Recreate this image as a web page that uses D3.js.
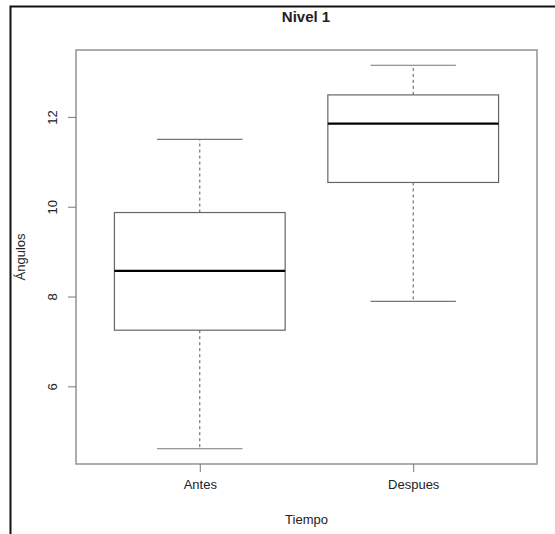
<!DOCTYPE html>
<html><head><meta charset="utf-8">
<script src="https://cdn.jsdelivr.net/npm/d3@7"></script>
<style>body{margin:0;background:#fff}svg{display:block}text{font-family:"Liberation Sans",Arial,sans-serif;fill:#222}</style>
</head><body><svg id="c" width="555" height="534"></svg>
<script>
const categories = ["Antes", "Despues"];
const whiskerLow = [4.61, 7.89];
const q1 = [7.25, 10.54];
const median = [8.57, 11.85];
const q3 = [9.87, 12.49];
const whiskerHigh = [11.50, 13.15];
const yTicks = [6, 8, 10, 12];

const svg = d3.select("#c");
const L = 76, R = 537, T = 50, B = 464;
const x = d3.scaleLinear().domain([0.42, 2.58]).range([L, R]);
const y = d3.scaleLinear().domain([4.27, 13.49]).range([B, T]);

// outer frame (left & top)
svg.append("path").attr("d", "M10.5,534 L10.5,6.5 L555,6.5").attr("fill","none").attr("stroke","#111").attr("stroke-width",2);

// plot frame
svg.append("rect").attr("x",L).attr("y",T).attr("width",R-L).attr("height",B-T)
  .attr("fill","none").attr("stroke","#999").attr("stroke-width",1.6);

const data = categories.map((c,i)=>({c,i:i+1,lo:whiskerLow[i],q1:q1[i],md:median[i],q3:q3[i],hi:whiskerHigh[i]}));
const bw = 0.4, cw = 0.2;
const g = svg.append("g");
data.forEach(d=>{
  const cx = x(d.i);
  g.append("line").attr("x1",cx).attr("x2",cx).attr("y1",y(d.q3)).attr("y2",y(d.hi)).attr("stroke","#555").attr("stroke-dasharray","3,3");
  g.append("line").attr("x1",cx).attr("x2",cx).attr("y1",y(d.q1)).attr("y2",y(d.lo)).attr("stroke","#555").attr("stroke-dasharray","3,3");
  g.append("line").attr("x1",x(d.i-cw)).attr("x2",x(d.i+cw)).attr("y1",y(d.hi)).attr("y2",y(d.hi)).attr("stroke","#777").attr("stroke-width",1.2);
  g.append("line").attr("x1",x(d.i-cw)).attr("x2",x(d.i+cw)).attr("y1",y(d.lo)).attr("y2",y(d.lo)).attr("stroke","#777").attr("stroke-width",1.2);
  g.append("rect").attr("x",x(d.i-bw)).attr("width",x(d.i+bw)-x(d.i-bw)).attr("y",y(d.q3)).attr("height",y(d.q1)-y(d.q3))
    .attr("fill","#fff").attr("stroke","#666").attr("stroke-width",1.2);
  g.append("line").attr("x1",x(d.i-bw)).attr("x2",x(d.i+bw)).attr("y1",y(d.md)).attr("y2",y(d.md)).attr("stroke","#000").attr("stroke-width",2.4);
});

// y axis
const ya = svg.append("g").attr("transform",`translate(${L},0)`)
  .call(d3.axisLeft(y).tickValues(yTicks).tickSize(8).tickFormat(d3.format("d")));
ya.select(".domain").remove();
ya.selectAll("line").attr("stroke","#777");
ya.selectAll(".tick text").attr("font-size",13).attr("fill","#222")
  .attr("x",0).attr("y",0).attr("dy","0.35em").attr("text-anchor","middle")
  .attr("transform","translate(-24,0) rotate(-90)");

// x axis
const xa = svg.append("g").attr("transform",`translate(0,${B})`)
  .call(d3.axisBottom(x).tickValues([1,2]).tickSize(8).tickFormat(d=>categories[d-1]));
xa.select(".domain").remove();
xa.selectAll("line").attr("stroke","#777");
xa.selectAll("text").attr("font-size",13).attr("fill","#222").attr("y",20).attr("dy","0.35em");

svg.append("text").attr("x",306).attr("y",22).attr("text-anchor","middle").attr("font-size",15).attr("font-weight","bold").text("Nivel 1");
svg.append("text").attr("x",(L+R)/2).attr("y",524).attr("text-anchor","middle").attr("font-size",13).text("Tiempo");
svg.append("text").attr("transform",`translate(25,${(T+B)/2}) rotate(-90)`).attr("text-anchor","middle").attr("font-size",13).text("Ángulos");
</script></body></html>
